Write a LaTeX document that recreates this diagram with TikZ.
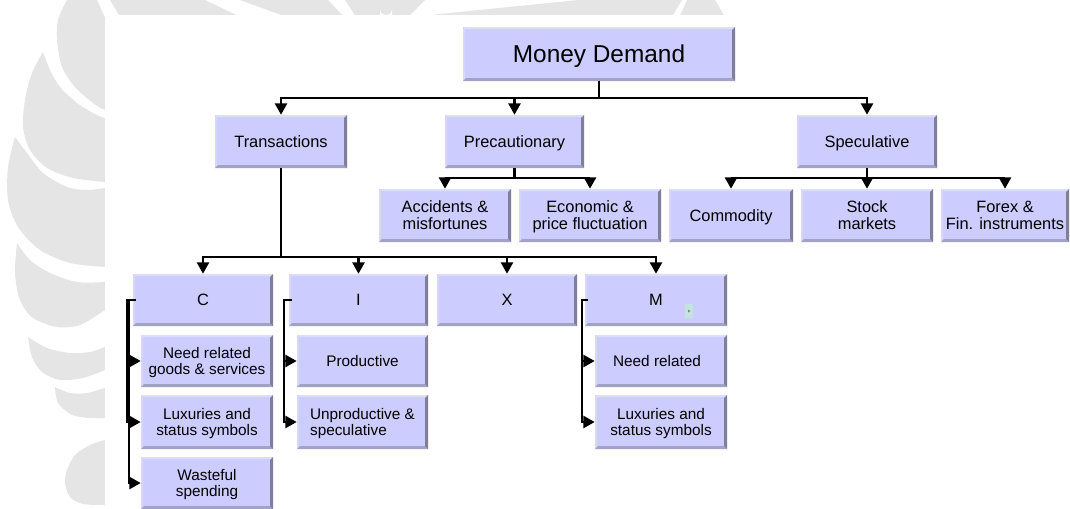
\documentclass[tikz,border=0pt]{standalone}
\usepackage{fontspec}
\setmainfont{Liberation Sans}
\usetikzlibrary{arrows.meta}

\definecolor{boxfill}{HTML}{CCCCFF}
\definecolor{bevtop}{HTML}{DCDCFF}
\definecolor{bevleft}{HTML}{D6D6FF}
\definecolor{bevright}{HTML}{7F7F9A}
\definecolor{bevbot}{HTML}{A2A2C6}
\definecolor{wmgray}{HTML}{E5E5E5}
\definecolor{tagfill}{HTML}{C2E4E0}

% raised (bevelled) edges of a box
\newcommand\boxbevel{%
  \fill[bevtop] (path picture bounding box.north west) -- (path picture bounding box.north east)
    -- ([shift={(-1.5pt,-1.5pt)}]path picture bounding box.north east)
    -- ([shift={(1.5pt,-1.5pt)}]path picture bounding box.north west) -- cycle;
  \fill[bevleft] (path picture bounding box.north west) -- (path picture bounding box.south west)
    -- ([shift={(1.5pt,1.5pt)}]path picture bounding box.south west)
    -- ([shift={(1.5pt,-1.5pt)}]path picture bounding box.north west) -- cycle;
  \fill[bevbot] (path picture bounding box.south west) -- (path picture bounding box.south east)
    -- ([shift={(-2.25pt,2.25pt)}]path picture bounding box.south east)
    -- ([shift={(2.25pt,2.25pt)}]path picture bounding box.south west) -- cycle;
  \fill[bevright] (path picture bounding box.north east) -- (path picture bounding box.south east)
    -- ([shift={(-2.25pt,2.25pt)}]path picture bounding box.south east)
    -- ([shift={(-2.25pt,-2.25pt)}]path picture bounding box.north east) -- cycle;
}

\tikzset{
  bx/.style={fill=boxfill, inner sep=0pt, align=center, text=black, text depth=0pt,
    font=\fontsize{12.3}{12.7}\selectfont, path picture={\boxbevel}},
  leaf/.style={bx, font=\fontsize{11.5}{12.5}\selectfont},
  title/.style={bx, font=\fontsize{18.3}{20}\selectfont},
  link/.style={line width=1.8pt, black},
  arr/.style={link, -{Triangle[length=8.5pt,width=9pt]}},
  wm/.style={fill=wmgray},
}

\begin{document}
\begin{tikzpicture}[x=0.75pt,y=-0.75pt]
\useasboundingbox (0,0) rectangle (1070,508);

% ---- faded emblem in the background ----
\fill[wm] plot[smooth] coordinates {(67,0) (58,20) (57,40) (62,67) (75,87) (93,103) (105,110) (125,114)}
  -- (140,60) -- (106,20) -- (97,0) -- cycle;
\fill[wm] plot[smooth] coordinates {(43,52) (50,70) (60,87) (77,103) (93,113) (105,118) (125,121)}
  -- (125,183) -- plot[smooth] coordinates {(105,182) (73,178) (47,168) (30,150) (23,127) (25,100) (32,73) (43,52)} -- cycle;
\fill[wm] plot[smooth] coordinates {(15,137) (27,153) (43,173) (67,187) (87,190) (105,188) (125,186)}
  -- (125,268) -- plot[smooth] coordinates {(105,267) (70,263) (40,250) (18,227) (8,200) (8,167) (15,137)} -- cycle;
\fill[wm] plot[smooth] coordinates {(17,243) (30,260) (50,273) (77,282) (105,282) (125,280)}
  -- (125,300) -- plot[smooth] coordinates {(105,310) (80,325) (57,327) (33,318) (20,300) (15,273) (17,243)} -- cycle;
\fill[wm] plot[smooth] coordinates {(28,337) (47,348) (70,353) (90,352) (105,347) (125,340)}
  -- (125,362) -- plot[smooth] coordinates {(105,370) (83,378) (60,380) (42,372) (32,357) (28,337)} -- cycle;
\fill[wm] plot[smooth] coordinates {(55,387) (70,393) (87,393) (105,388) (125,384)}
  -- (125,418) -- plot[smooth] coordinates {(105,418) (90,418) (72,415) (58,403) (55,387)} -- cycle;
\fill[wm] plot[smooth] coordinates {(125,438) (105,440) (90,445) (75,455) (67,470) (65,483) (70,497) (83,504) (105,505) (125,505)} -- cycle;
% top edge of the emblem
\fill[wm] (110,0) -- (205,0) -- (247,20) -- (122,20) -- cycle;
\fill[wm] (240,0) -- (328,0) -- (347,20) -- (295,20) -- cycle;
\fill[wm] (345,0) -- (425,0) -- (405,20) -- (358,20) -- cycle;
\fill[white] (380,15) -- (380,10) arc[start angle=180,end angle=0,x radius=6,y radius=5] -- (392,15) -- cycle;
\fill[wm] (430,15) -- (578,0) -- (682,0) -- (670,20) -- (420,20) -- cycle;
\fill[wm] (687,0) -- (715,0) -- (727,20) -- (678,20) -- cycle;
% sheet laid over the emblem
\fill[white] (105,15) rectangle (1075,515);

% ---- boxes ----
\node[title, minimum width=204pt, minimum height=40.5pt] (md) at (599,54) {Money Demand};

\node[bx, minimum width=99pt,    minimum height=39.75pt] (tr) at (281,141.5) {Transactions};
\node[bx, minimum width=104.25pt,minimum height=39.75pt] (pr) at (514.5,141.5) {Precautionary};
\node[bx, minimum width=105pt,   minimum height=39.75pt] (sp) at (867,141.5) {Speculative};

\node[bx, minimum width=99pt,   minimum height=39.75pt] (acc) at (445,215.5) {Accidents \&\\misfortunes};
\node[bx, minimum width=106.5pt,minimum height=39.75pt] (eco) at (590,215.5) {Economic \&\\price fluctuation};
\node[bx, minimum width=93pt,   minimum height=39.75pt] (com) at (731,215.5) {Commodity};
\node[bx, minimum width=99pt,   minimum height=39.75pt] (sto) at (867,215.5) {Stock\\markets};
\node[bx, minimum width=96pt,   minimum height=39.75pt] (fx)  at (1005,215.5) {Forex \&\\Fin. instruments};

\node[bx, minimum width=105pt,   minimum height=39pt] (C) at (203,300) {C};
\node[bx, minimum width=104.25pt,minimum height=39pt] (I) at (358.5,300) {I};
\node[bx, minimum width=105pt,   minimum height=39pt] (X) at (507,300) {X};
\node[bx, minimum width=106.5pt, minimum height=39pt] (M) at (656,300) {M};
\node[fill=tagfill, inner sep=0pt, minimum width=6pt, minimum height=10.5pt] (mtag) at (689,311) {};
\fill[gray] (688,309.5) -- (690.5,311) -- (688,312.5) -- cycle;

\node[leaf, minimum width=99pt, minimum height=39pt]   (cn) at (207,361) {Need related\\goods \& services};
\node[leaf, minimum width=99pt, minimum height=40.5pt] (cl) at (207,422) {Luxuries and\\status symbols};
\node[leaf, minimum width=99pt, minimum height=39pt]   (cw) at (207,483) {Wasteful\\spending};

\node[leaf, minimum width=98.25pt, minimum height=39pt]   (ip) at (362.5,361) {Productive};
\node[leaf, minimum width=98.25pt, minimum height=40.5pt, align=left] (iu) at (362.5,422) {Unproductive \&\\speculative};

\node[leaf, minimum width=99pt, minimum height=39pt]   (mn) at (661,361) {Need related\hspace*{6pt}};
\node[leaf, minimum width=99pt, minimum height=40.5pt] (ml) at (661,422) {Luxuries and\\status symbols};

% ---- connectors ----
\coordinate (j0) at (599,98);
\draw[link] (md.south) -- (j0);
\draw[arr] (j0) -| (tr.north);
\draw[arr] (j0) -| (pr.north);
\draw[arr] (j0) -| (sp.north);

\coordinate (j1) at (514.5,178);
\draw[link] (pr.south) -- (j1);
\draw[arr] (j1) -| (acc.north);
\draw[arr] (j1) -| (eco.north);

\coordinate (j2) at (867,178);
\draw[link] (sp.south) -- (j2);
\draw[arr] (j2) -| (com.north);
\draw[arr] (j2) -- (sto.north);
\draw[arr] (j2) -| (fx.north);

\coordinate (j3) at (281,257);
\draw[link] (tr.south) -- (j3);
\draw[arr] (j3) -| (C.north);
\draw[arr] (j3) -| (I.north);
\draw[arr] (j3) -| (X.north);
\draw[arr] (j3) -| (M.north);

\draw[arr] ([xshift=2.25pt]C.west) -- ++(-9,0) |- (cn.west);
\draw[arr] ([xshift=2.25pt]C.west) -- ++(-9,0) |- (cl.west);
\draw[arr] ([xshift=2.25pt]C.west) -- ++(-7,0) |- (cw.west);

\draw[arr] ([xshift=2.25pt]I.west) -- ++(-8,0) |- (ip.west);
\draw[arr] ([xshift=2.25pt]I.west) -- ++(-8,0) |- (iu.west);

\draw[arr] ([xshift=2.25pt]M.west) -- ++(-6,0) |- (mn.west);
\draw[arr] ([xshift=2.25pt]M.west) -- ++(-6,0) |- (ml.west);
\end{tikzpicture}
\end{document}
